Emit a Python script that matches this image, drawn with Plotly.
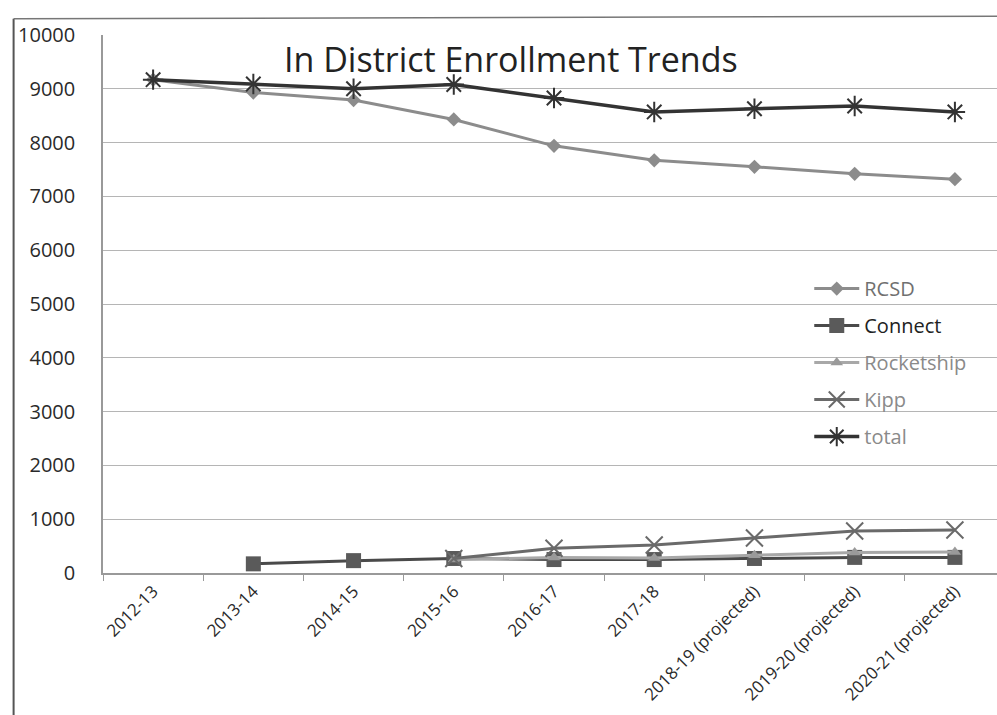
import plotly.graph_objects as go

categories = ["2012-13", "2013-14", "2014-15", "2015-16", "2016-17", "2017-18",
              "2018-19 (projected)", "2019-20 (projected)", "2020-21 (projected)"]
rcsd = [9170, 8930, 8790, 8430, 7940, 7670, 7550, 7420, 7320]
connect = [None, 170, 230, 270, 250, 250, 270, 290, 290]
rocketship = [None, None, None, 250, 290, 280, 330, 380, 390]
kipp = [None, None, None, 270, 460, 520, 650, 780, 800]
total = [9170, 9090, 9000, 9080, 8830, 8570, 8630, 8680, 8570]

FONT = "Open Sans"
fig = go.Figure()

def add(name, y, color, width, symbol, msize, mcolor, mline=0, legcolor=None, lg="a"):
    fig.add_trace(go.Scatter(
        x=categories, y=y, mode="lines+markers",
        name=f"<span style='color:{legcolor or color}'>{name}</span>",
        legendgroup=lg,
        line=dict(color=color, width=width),
        marker=dict(symbol=symbol, size=msize, color=mcolor,
                    line=dict(color=mcolor, width=mline)),
        connectgaps=False,
    ))

add("RCSD", rcsd, "#8c8c8c", 3, "diamond", 11, "#8c8c8c", legcolor="#707070", lg="g1")
add("Connect", connect, "#4a4a4a", 3, "square", 15, "#5a5a5a", legcolor="#222", lg="g2")
add("Rocketship", rocketship, "#a8a8a8", 3, "triangle-up", 11, "#9a9a9a", legcolor="#8a8a8a", lg="g3")
add("Kipp", kipp, "#6a6a6a", 3, "x-thin-open", 17, "#6a6a6a", mline=2, legcolor="#8a8a8a", lg="g4")
add("total", total, "#333333", 3.5, "asterisk-open", 17, "#333333", mline=2, legcolor="#8a8a8a", lg="g5")

fig.update_layout(
    width=997, height=715,
    margin=dict(l=103, r=0, t=35, b=142, autoexpand=False),
    paper_bgcolor="white", plot_bgcolor="white",
    font=dict(family=FONT, color="#333", size=16),
    showlegend=True,
    legend=dict(x=0.79, y=0.565, xanchor="left", yanchor="top",
                bgcolor="rgba(0,0,0,0)", font=dict(size=20, family=FONT),
                tracegroupgap=8, itemwidth=45),
    xaxis=dict(range=[-0.5, 8.42], showgrid=False, showline=True, automargin=False,
               linecolor="#999", linewidth=1.5, ticks="outside",
               tickson="boundaries", ticklen=6, tickcolor="#999",
               tickangle=-45, tickfont=dict(size=17, color="#2a2a2a")),
    yaxis=dict(range=[0, 10000], dtick=1000, tickformat="d", showgrid=True,
               automargin=False,
               gridcolor="#b5b5b5", gridwidth=1.2, showline=True,
               linecolor="#999", linewidth=1.5, zeroline=False,
               ticks="", tickfont=dict(size=20, color="#2a2a2a"),
               ticklabelstandoff=22),
    annotations=[dict(text="In District Enrollment Trends", xref="paper", yref="paper",
                      x=0.456, y=0.955, xanchor="center", yanchor="middle",
                      showarrow=False, font=dict(size=34, color="#222", family=FONT))],
    shapes=[
        dict(type="line", xref="paper", yref="paper", x0=-0.1, x1=-0.1,
             y0=1.03, y1=-0.27, line=dict(color="#555", width=2)),
        dict(type="line", xref="paper", yref="paper", x0=-0.1, x1=1.0,
             y0=1.03, y1=1.035, line=dict(color="#777", width=1.5)),
    ],
)

fig.write_html("out.html")
